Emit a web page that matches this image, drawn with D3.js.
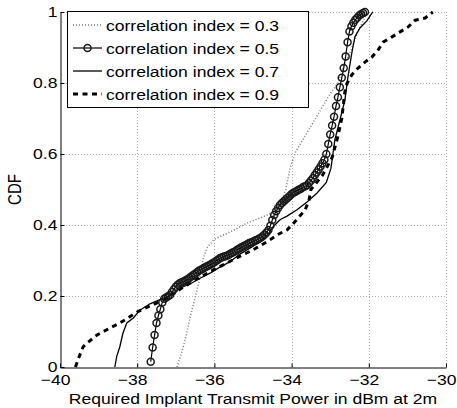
<!DOCTYPE html>
<html>
<head>
<meta charset="utf-8">
<script src="https://cdn.jsdelivr.net/npm/d3@7"></script>
<style>
  body { margin: 0; background: #fff; }
  text { font-family: "Liberation Sans", Arial, sans-serif; }
</style>
</head>
<body>
<div id="container"></div>
<script>
let w = 457;
let h = 408;
let padLeft = 60, padRight = 446, padTop = 12, padBottom = 367;
let fontSize = 15;
let stretch = 1.17; // the original figure's text is a bit wider than tall

// tick values
let xTicks = [-40, -38, -36, -34, -32, -30];
let yTicks = [0, 0.2, 0.4, 0.6, 0.8, 1];

let labels = ["correlation index = 0.3", "correlation index = 0.5",
  "correlation index = 0.7", "correlation index = 0.9"];

// CDF curves, [power dBm, cdf]
let corr03 = [[-36.97, 0], [-36.85, 0.04], [-36.75, 0.08], [-36.63, 0.14], [-36.5, 0.195],
  [-36.4, 0.24], [-36.3, 0.3], [-36.2, 0.335], [-36.0, 0.36], [-35.6, 0.38], [-35.16, 0.405],
  [-34.74, 0.423], [-34.45, 0.437], [-34.3, 0.46], [-34.15, 0.5], [-34.04, 0.56], [-33.9, 0.605],
  [-33.6, 0.66], [-33.3, 0.715], [-33.0, 0.77], [-32.8, 0.8], [-32.65, 0.85], [-32.45, 0.895],
  [-32.3, 0.94], [-32.15, 0.975], [-32.02, 1.0]];

let corr05 = [[-37.65, 0.015], [-37.6, 0.055], [-37.55, 0.09], [-37.5, 0.124], [-37.45, 0.145],
  [-37.4, 0.163], [-37.35, 0.182], [-37.3, 0.192], [-37.25, 0.196], [-37.2, 0.199], [-37.15, 0.203],
  [-37.1, 0.211], [-37.05, 0.219], [-37.0, 0.226], [-36.95, 0.232], [-36.9, 0.236], [-36.85, 0.239],
  [-36.8, 0.241], [-36.75, 0.244], [-36.7, 0.247], [-36.65, 0.251], [-36.6, 0.255], [-36.55, 0.259],
  [-36.5, 0.263], [-36.45, 0.267], [-36.4, 0.271], [-36.35, 0.274], [-36.3, 0.277], [-36.25, 0.28],
  [-36.2, 0.283], [-36.15, 0.286], [-36.1, 0.289], [-36.05, 0.292], [-36.0, 0.295], [-35.95, 0.299],
  [-35.9, 0.303], [-35.85, 0.307], [-35.8, 0.309], [-35.75, 0.311], [-35.7, 0.313], [-35.65, 0.315],
  [-35.6, 0.318], [-35.55, 0.321], [-35.5, 0.324], [-35.45, 0.327], [-35.4, 0.331], [-35.35, 0.334],
  [-35.3, 0.337], [-35.25, 0.34], [-35.2, 0.343], [-35.15, 0.346], [-35.1, 0.349], [-35.05, 0.351],
  [-35.0, 0.353], [-34.95, 0.356], [-34.9, 0.358], [-34.85, 0.361], [-34.8, 0.364], [-34.75, 0.368],
  [-34.7, 0.373], [-34.65, 0.379], [-34.6, 0.386], [-34.55, 0.398], [-34.5, 0.414], [-34.45, 0.428],
  [-34.4, 0.439], [-34.35, 0.448], [-34.3, 0.456], [-34.25, 0.462], [-34.2, 0.467], [-34.15, 0.472],
  [-34.1, 0.477], [-34.05, 0.482], [-34.0, 0.487], [-33.95, 0.491], [-33.9, 0.494], [-33.85, 0.497],
  [-33.8, 0.5], [-33.75, 0.503], [-33.7, 0.507], [-33.65, 0.509], [-33.6, 0.512], [-33.55, 0.518],
  [-33.5, 0.525], [-33.45, 0.532], [-33.4, 0.54], [-33.35, 0.548], [-33.3, 0.556], [-33.25, 0.565],
  [-33.2, 0.574], [-33.15, 0.584], [-33.1, 0.6], [-33.05, 0.628], [-33.0, 0.655], [-32.95, 0.68],
  [-32.9, 0.705], [-32.85, 0.735], [-32.8, 0.76], [-32.75, 0.788], [-32.7, 0.815], [-32.65, 0.842],
  [-32.6, 0.875], [-32.55, 0.915], [-32.5, 0.945], [-32.45, 0.96], [-32.4, 0.97], [-32.35, 0.978],
  [-32.3, 0.984], [-32.25, 0.99], [-32.2, 0.994], [-32.15, 0.997], [-32.1, 1.0]];

let corr07 = [[-38.58, 0], [-38.53, 0.03], [-38.45, 0.057], [-38.37, 0.095], [-38.27, 0.124],
  [-38.1, 0.138], [-37.93, 0.16], [-37.67, 0.178], [-37.41, 0.19], [-37.15, 0.2], [-36.89, 0.222],
  [-36.6, 0.236], [-36.37, 0.25], [-36.1, 0.265], [-35.85, 0.282], [-35.6, 0.296], [-35.34, 0.318],
  [-35.08, 0.335], [-34.82, 0.352], [-34.6, 0.375], [-34.48, 0.395], [-34.3, 0.415], [-34.12, 0.425],
  [-33.86, 0.443], [-33.6, 0.465], [-33.34, 0.49], [-33.1, 0.52], [-32.98, 0.56], [-32.88, 0.64],
  [-32.75, 0.695], [-32.62, 0.752], [-32.54, 0.817], [-32.44, 0.885], [-32.36, 0.93], [-32.23, 0.955],
  [-32.05, 0.975], [-31.92, 0.997], [-31.89, 1.0]];

let corr09 = [[-39.6, 0], [-39.5, 0.03], [-39.4, 0.057], [-39.27, 0.07], [-39.04, 0.09], [-38.7, 0.11],
  [-38.45, 0.124], [-38.24, 0.138], [-38.0, 0.155], [-37.75, 0.168], [-37.5, 0.18], [-37.24, 0.194],
  [-37.0, 0.212], [-36.5, 0.245], [-36.0, 0.275], [-35.5, 0.303], [-35.0, 0.33], [-34.6, 0.355],
  [-34.38, 0.372], [-34.12, 0.386], [-33.99, 0.4], [-33.83, 0.42], [-33.65, 0.442], [-33.55, 0.47],
  [-33.5, 0.5], [-33.2, 0.54], [-32.95, 0.59], [-32.8, 0.65], [-32.7, 0.7], [-32.62, 0.775],
  [-32.56, 0.8], [-32.44, 0.823], [-32.28, 0.842], [-32.1, 0.859], [-31.92, 0.873], [-31.76, 0.893],
  [-31.63, 0.915], [-31.4, 0.93], [-31.19, 0.944], [-30.98, 0.958], [-30.8, 0.977], [-30.54, 0.983],
  [-30.34, 1.0]];

let viz = d3.select("#container")
  .append("svg")
  .attr("width", w)
  .attr("height", h);

let xScale = d3.scaleLinear().domain([-40, -30]).range([padLeft, padRight]);
let yScale = d3.scaleLinear().domain([0, 1]).range([padBottom, padTop]);

let fmtX = d => (d < 0 ? "\u2212" + Math.abs(d) : d);
let fmtY = d => d;

// widen a text horizontally around its own x
function widen(sel, shift) {
  sel.each(function () {
    let t = d3.select(this);
    let x = (+t.attr('x') || 0) + (shift || 0);
    t.attr('x', 0).attr('transform', 'translate(' + x + ',0) scale(' + stretch + ',1)');
  });
}

// grid
let grid = viz.append('g').attr('class', 'grid')
  .attr('stroke', '#b0b0b0').attr('stroke-width', 1).attr('stroke-dasharray', '1,2');
grid.selectAll('.gx').data(xTicks.slice(1)).enter().append('line')
  .attr('x1', d => Math.round(xScale(d)) + 0.5).attr('x2', d => Math.round(xScale(d)) + 0.5)
  .attr('y1', padTop).attr('y2', padBottom);
grid.selectAll('.gy').data(yTicks.slice(1)).enter().append('line')
  .attr('y1', d => Math.round(yScale(d)) + 0.5).attr('y2', d => Math.round(yScale(d)) + 0.5)
  .attr('x1', padLeft).attr('x2', padRight);

// axes with inward ticks
let xAxis = d3.axisBottom(xScale).tickValues(xTicks).tickSizeInner(-4).tickSizeOuter(0)
  .tickPadding(7).tickFormat(fmtX);
let xAxisGroup = viz.append('g').attr('class', 'xaxis')
  .attr('transform', 'translate(0,' + (padBottom + 0.5) + ')').call(xAxis);

let yAxis = d3.axisLeft(yScale).tickValues(yTicks).tickSizeInner(-4).tickSizeOuter(0)
  .tickPadding(3).tickFormat(fmtY);
let yAxisGroup = viz.append('g').attr('class', 'yaxis')
  .attr('transform', 'translate(' + (padLeft + 0.5) + ',0)').call(yAxis);

[xAxisGroup, yAxisGroup].forEach(g => {
  g.select('.domain').attr('stroke', '#000');
  g.selectAll('.tick line').attr('stroke', '#000');
  g.selectAll('.tick text').attr('font-size', fontSize).attr('fill', '#000')
    .attr('font-family', '"Liberation Sans", Arial, sans-serif');
});
xAxisGroup.selectAll('.tick text').call(widen, -5);
yAxisGroup.selectAll('.tick text').call(widen, 0);

// curves
let line = d3.line().x(d => xScale(d[0])).y(d => yScale(d[1]));
let plot = viz.append('g').attr('class', 'vizGroup');

plot.append('path').datum(corr03).attr('d', line)
  .attr('fill', 'none').attr('stroke', '#7a7a7a').attr('stroke-width', 1.5)
  .attr('stroke-dasharray', '1,2');

plot.append('path').datum(corr07).attr('d', line)
  .attr('fill', 'none').attr('stroke', '#000').attr('stroke-width', 1.3);

plot.append('path').datum(corr09).attr('d', line)
  .attr('fill', 'none').attr('stroke', '#000').attr('stroke-width', 3)
  .attr('stroke-dasharray', '5,4.5');

plot.append('path').datum(corr05).attr('d', line)
  .attr('fill', 'none').attr('stroke', '#000').attr('stroke-width', 1.2);
plot.selectAll('.m05').data(corr05).enter().append('circle')
  .attr('class', 'm05')
  .attr('cx', d => xScale(d[0])).attr('cy', d => yScale(d[1]))
  .attr('r', 3.5).attr('fill', 'none').attr('stroke', '#1a1a1a').attr('stroke-width', 1.5);

// axis labels
viz.append('text').text('Required Implant Transmit Power in dBm at 2m')
  .attr('x', (padLeft + padRight) / 2).attr('y', 404).attr('text-anchor', 'middle')
  .attr('font-size', fontSize).call(widen, 0);
viz.append('text').text('CDF')
  .attr('transform', 'translate(21,' + ((padTop + padBottom) / 2) + ') scale(' + stretch + ',1) rotate(-90)')
  .attr('text-anchor', 'middle').attr('font-size', fontSize);

// legend
let legend = viz.append('g').attr('class', 'legend');
legend.append('rect').attr('x', 67.5).attr('y', 11.5).attr('width', 241).attr('height', 96)
  .attr('fill', '#fff').attr('stroke', '#000').attr('stroke-width', 1);
let styles = [
  { stroke: '#7a7a7a', width: 1.5, dash: '1,2', marker: false },
  { stroke: '#000', width: 1.2, dash: null, marker: true },
  { stroke: '#000', width: 1.3, dash: null, marker: false },
  { stroke: '#000', width: 3, dash: '5,4.5', marker: false }
];
let rows = legend.selectAll('.row').data(labels).enter().append('g')
  .attr('class', 'row')
  .attr('transform', (d, i) => 'translate(0,' + (25 + i * 23) + ')');
rows.append('line').attr('x1', 73).attr('x2', 102).attr('y1', 0).attr('y2', 0)
  .attr('stroke', (d, i) => styles[i].stroke).attr('stroke-width', (d, i) => styles[i].width)
  .attr('stroke-dasharray', (d, i) => styles[i].dash);
rows.filter((d, i) => styles[i].marker).append('circle')
  .attr('cx', 87.5).attr('cy', 0).attr('r', 3.5)
  .attr('fill', 'none').attr('stroke', '#1a1a1a').attr('stroke-width', 1.5);
rows.append('text').text(d => d).attr('x', 106).attr('y', 5.5).attr('font-size', fontSize)
  .call(widen, 0);
</script>
</body>
</html>
